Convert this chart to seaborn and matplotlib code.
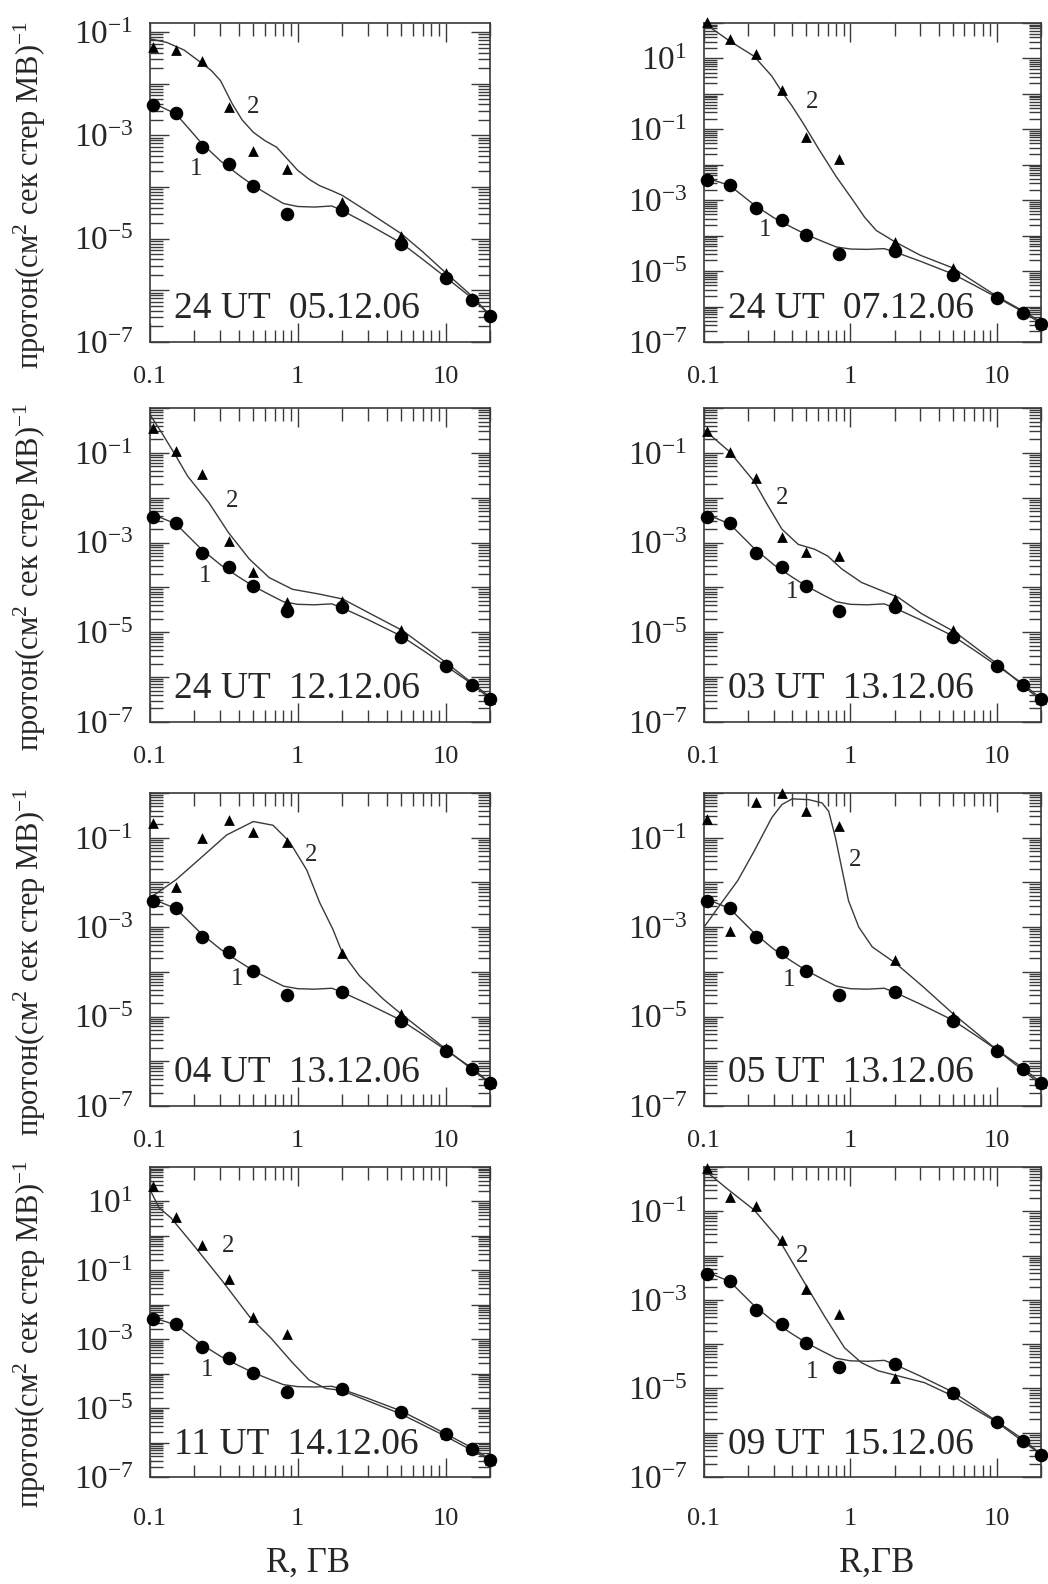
import numpy as np
import matplotlib
matplotlib.use("Agg")
import matplotlib.pyplot as plt
import matplotlib.ticker as mticker
import seaborn as sns

# rigidity of the measured points, GV
R_pts = [0.105, 0.15, 0.225, 0.34, 0.5, 0.84, 2.0, 5.0, 10.0, 15.0, 20.0]

# curve 1 (circles) - same background spectrum on every panel
flux_1 = [3.8e-3, 2.7e-3, 6.0e-4, 2.8e-4, 1.07e-4, 3.0e-5, 3.6e-5, 7.8e-6, 1.74e-6, 6.6e-7, 3.2e-7]
fit1_R = [0.1, 0.15, 0.22, 0.3, 0.4, 0.5, 0.65, 0.8, 1.0, 1.3, 1.7, 2.0, 3.0, 5.0, 7.0, 10.0, 15.0, 20.0]
fit1_flux = [4.5e-3, 2.6e-3, 7.4e-4, 3.2e-4, 1.7e-4, 1.07e-4, 6.8e-5, 4.8e-5, 4.2e-5, 4.1e-5, 4.3e-5,
             3.5e-5, 1.9e-5, 8.3e-6, 4.0e-6, 1.8e-6, 7.2e-7, 3.3e-7]

# curve 2 (triangles) - one per moment
titles = ["24 UT  05.12.06", "24 UT  07.12.06", "24 UT  12.12.06", "03 UT  13.12.06",
          "04 UT  13.12.06", "05 UT  13.12.06", "11 UT  14.12.06", "09 UT  15.12.06"]

tri_0512 = [5.1e-2, 4.5e-2, 2.7e-2, 3.6e-3, 5.1e-4, 2.2e-4, 5.2e-5, 1.15e-5, 2.2e-6, 7.1e-7, 3.3e-7]
fitR_0512 = [0.1, 0.13, 0.17, 0.22, 0.26, 0.3, 0.36, 0.42, 0.5, 0.6, 0.72, 0.85, 1.0, 1.2, 1.4, 1.7,
             2.0, 2.9, 5.0, 7.0, 10.0, 15.0, 20.0]
fit_0512 = [0.074, 0.063, 0.045, 0.026, 0.018, 0.0115, 4.1e-3, 2.0e-3, 1.15e-3, 7.9e-4, 5.9e-4, 3.5e-4,
            2.1e-4, 1.4e-4, 1.07e-4, 8.5e-5, 6.9e-5, 3.5e-5, 1.26e-5, 5.6e-6, 2.2e-6, 7.9e-7, 3.3e-7]

tri_0712 = [107, 35, 13, 1.3, 0.06, 0.0145, 6.8e-5, 1.23e-5, 2.0e-6, 7.1e-7, 3.3e-7]
fitR_0712 = [0.1, 0.148, 0.22, 0.29, 0.34, 0.4, 0.47, 0.61, 0.8, 1.04, 1.25, 1.5, 2.0, 3.0, 5.0,
             10.0, 15.0, 20.0]
fit_0712 = [100, 32, 11.5, 3.2, 1.15, 0.45, 0.16, 0.027, 4.6e-3, 1.0e-3, 3.3e-4, 1.4e-4, 6.8e-5,
            2.8e-5, 1.23e-5, 1.95e-6, 7.6e-7, 3.7e-7]

tri_1212 = [0.36, 0.11, 0.033, 1.1e-3, 2.2e-4, 4.8e-5, 5.0e-5, 1.1e-5, 2.0e-6, 7.1e-7, 3.3e-7]
fitR_1212 = [0.1, 0.12, 0.148, 0.18, 0.25, 0.34, 0.47, 0.64, 0.92, 1.4, 2.02, 3.1, 5.1, 10.3, 20.0]
fit_1212 = [0.71, 0.28, 0.091, 0.030, 7.8e-3, 1.66e-3, 4.3e-4, 1.66e-4, 9.1e-5, 7.1e-5, 5.5e-5,
            2.6e-5, 1.1e-5, 2.0e-6, 3.6e-7]

tri_1303 = [0.30, 0.105, 0.027, 1.35e-3, 6.3e-4, 4.9e-4, 5.5e-5, 1.12e-5, 2.0e-6, 7.1e-7, 3.3e-7]
fitR_1303 = [0.1, 0.15, 0.22, 0.27, 0.34, 0.44, 0.57, 0.7, 0.87, 1.19, 1.63, 2.12, 3.06, 5.2, 10.0, 20.0]
fit_1303 = [0.33, 0.105, 0.023, 7.1e-3, 2.0e-3, 9.1e-4, 7.1e-4, 5.0e-4, 2.6e-4, 1.29e-4, 8.5e-5,
            6.0e-5, 2.6e-5, 1.0e-5, 2.0e-6, 3.0e-7]

tri_1304 = [0.21, 8.1e-3, 0.098, 0.25, 0.135, 0.081, 2.7e-4, 1.15e-5, 2.0e-6, 7.1e-7, 3.3e-7]
fitR_1304 = [0.1, 0.15, 0.22, 0.33, 0.5, 0.68, 0.88, 1.15, 1.41, 1.73, 2.0, 2.62, 3.77, 5.0, 10.0, 20.0]
fit_1304 = [4.5e-3, 0.0115, 0.035, 0.115, 0.23, 0.19, 0.081, 0.019, 3.5e-3, 8.9e-4, 2.7e-4, 8.1e-5,
            2.5e-5, 1.15e-5, 1.9e-6, 3.2e-7]

tri_1305 = [0.26, 8.1e-4, 0.63, 1.0, 0.39, 0.18, 1.86e-4, 1.02e-5, 2.0e-6, 7.1e-7, 3.3e-7]
fitR_1305 = [0.1, 0.13, 0.17, 0.22, 0.29, 0.34, 0.4, 0.52, 0.64, 0.71, 0.79, 0.88, 0.97, 1.14, 1.41,
             2.04, 3.12, 5.0, 10.0, 20.0]
fit_1305 = [1.0e-3, 3.3e-3, 0.011, 0.05, 0.28, 0.55, 0.74, 0.71, 0.60, 0.39, 0.1, 0.018, 3.9e-3,
            1.0e-3, 3.6e-4, 1.55e-4, 4.7e-5, 1.17e-5, 1.8e-6, 3.0e-7]

tri_1411 = [28, 3.5, 0.56, 0.056, 4.4e-3, 1.4e-3, 3.6e-5, 8.0e-6, 1.74e-6, 6.6e-7, 3.2e-7]
fitR_1411 = [0.1, 0.115, 0.139, 0.2, 0.31, 0.47, 0.66, 0.91, 1.19, 1.55, 1.96, 4.94, 9.8, 20.0]
fit_1411 = [22, 6.6, 3.3, 0.5, 0.048, 4.6e-3, 1.07e-3, 2.2e-4, 6.6e-5, 3.7e-5, 3.3e-5, 6.9e-6,
            1.6e-6, 3.1e-7]

tri_1509 = [0.95, 0.21, 0.13, 0.023, 1.8e-3, 4.8e-4, 1.74e-5, 7.9e-6, 1.8e-6, 6.9e-7, 3.3e-7]
fitR_1509 = [0.1, 0.148, 0.22, 0.32, 0.46, 0.67, 0.91, 1.19, 1.55, 1.9, 3.2, 4.8, 9.8, 20.0]
fit_1509 = [0.87, 0.30, 0.107, 0.025, 3.3e-3, 4.1e-4, 8.3e-5, 3.8e-5, 2.5e-5, 2.1e-5, 1.35e-5,
            7.2e-6, 1.8e-6, 3.2e-7]

# y-axis upper limit of each panel
y_top = [0.15, 100, 1, 1, 1, 1, 100, 1]

# where the curve numbers "1" and "2" sit (R, flux)
lab2_pos = [(0.5, 3.5e-3), (0.55, 0.58), (0.36, 8.5e-3), (0.34, 9.8e-3),
            (1.24, 0.041), (1.07, 0.032), (0.336, 0.5), (0.47, 0.010)]
lab1_pos = [(0.206, 2.2e-4), (0.26, 1.4e-4), (0.237, 1.8e-4), (0.40, 7.8e-5),
            (0.39, 6.9e-5), (0.38, 6.5e-5), (0.244, 1.3e-4), (0.55, 2.4e-5)]

tri_all = [tri_0512, tri_0712, tri_1212, tri_1303, tri_1304, tri_1305, tri_1411, tri_1509]
fitR_all = [fitR_0512, fitR_0712, fitR_1212, fitR_1303, fitR_1304, fitR_1305, fitR_1411, fitR_1509]
fit_all = [fit_0512, fit_0712, fit_1212, fit_1303, fit_1304, fit_1305, fit_1411, fit_1509]

sns.set_style("ticks")
plt.rcParams["font.family"] = ["Liberation Serif", "DejaVu Serif"]
plt.rcParams["mathtext.fontset"] = "custom"
plt.rcParams["mathtext.rm"] = "Liberation Serif"
plt.rcParams["mathtext.it"] = "Liberation Serif:italic"
plt.rcParams["mathtext.bf"] = "Liberation Serif:bold"

W, H = 1048, 1584
fig = plt.figure(figsize=(W / 100, H / 100), dpi=100)

col_x = [(150, 490), (704, 1041)]
row_y = [(23, 342), (408, 722), (793, 1106), (1167, 1477)]
ink = "#3a3a3a"


def ylab(v, pos):
    e = int(round(np.log10(v)))
    if e % 2 == 0:
        return ""
    return r"$\mathregular{10^{%d}}$" % e


for i in range(8):
    r, c = divmod(i, 2)
    x0, x1 = col_x[c]
    yt, yb = row_y[r]
    ax = fig.add_axes([x0 / W, 1 - yb / H, (x1 - x0) / W, (yb - yt) / H])
    ax.set_xscale("log")
    ax.set_yscale("log")
    ax.set_xlim(0.1, 20)
    ax.set_ylim(1e-7, y_top[i])

    sns.lineplot(x=fit1_R, y=fit1_flux, ax=ax, color=ink, lw=1.0, sort=False, estimator=None)
    sns.lineplot(x=fitR_all[i], y=fit_all[i], ax=ax, color=ink, lw=1.0, sort=False, estimator=None)
    sns.scatterplot(x=R_pts, y=tri_all[i], ax=ax, marker="^", s=60, color="black",
                    linewidth=0, clip_on=False, zorder=4)
    sns.scatterplot(x=R_pts, y=flux_1, ax=ax, marker="o", s=95, color="black",
                    linewidth=0, clip_on=False, zorder=5)

    ax.text(*lab2_pos[i], "2", fontsize=18, ha="center", va="center")
    ax.text(*lab1_pos[i], "1", fontsize=18, ha="center", va="center")
    ax.text(0.07, 0.105, titles[i], transform=ax.transAxes, fontsize=27,
            ha="left", va="center")

    ax.xaxis.set_major_locator(mticker.FixedLocator([0.1, 1, 10]))
    ax.xaxis.set_major_formatter(mticker.FuncFormatter(lambda v, p: "%g" % v))
    ax.xaxis.set_minor_locator(mticker.LogLocator(base=10, subs=np.arange(2, 10), numticks=50))
    ax.xaxis.set_minor_formatter(mticker.NullFormatter())
    ax.yaxis.set_major_locator(mticker.LogLocator(base=10, numticks=50))
    ax.yaxis.set_major_formatter(mticker.FuncFormatter(ylab))
    ax.yaxis.set_minor_locator(mticker.LogLocator(base=10, subs=np.arange(2, 10), numticks=50))
    ax.yaxis.set_minor_formatter(mticker.NullFormatter())

    ax.tick_params(which="both", direction="in", top=True, right=True, color=ink, width=1.0)
    ax.tick_params(which="major", length=14)
    ax.tick_params(which="minor", length=9)
    ax.tick_params(axis="y", which="major", labelsize=24, pad=12)
    ax.tick_params(axis="x", which="major", labelsize=19, pad=17 if r < 3 else 22)
    for sp in ax.spines.values():
        sp.set_color(ink)
        sp.set_linewidth(1.2)
    ax.set_xlabel("")
    ax.set_ylabel("")

    if c == 0:
        fig.text(30 / W, 1 - ((yt + yb) / 2 + 12) / H,
                 r"протон(см$^{\mathregular{2}}$ сек стер МВ)$^{\mathregular{-1}}$",
                 rotation=90, ha="center", va="center", fontsize=22)

fig.text(308 / W, 1 - 1563 / H, "R, ГВ", fontsize=25, ha="center", va="center")
fig.text(877 / W, 1 - 1563 / H, "R,ГВ", fontsize=25, ha="center", va="center")

fig.savefig("out.png", dpi=100)
